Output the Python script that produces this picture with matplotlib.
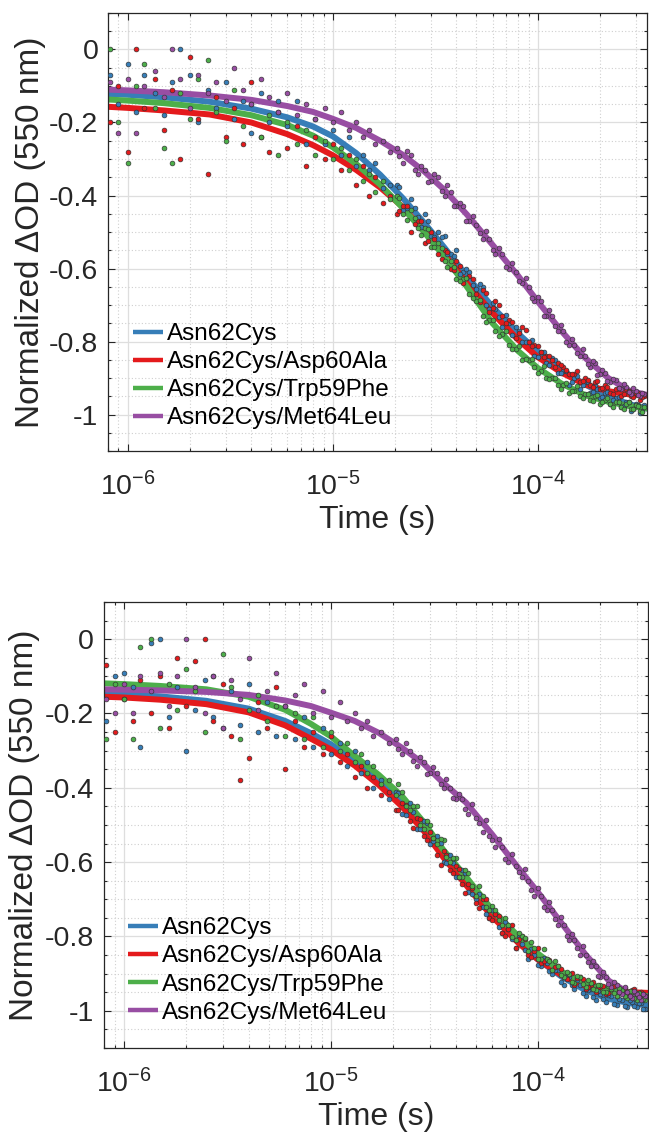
import numpy as np
import matplotlib
matplotlib.use("Agg")
import matplotlib.pyplot as plt
from matplotlib.ticker import LogLocator, MultipleLocator, FuncFormatter, NullFormatter

plt.rcParams.update({
    "font.family": ["Liberation Sans", "DejaVu Sans"],
    "mathtext.fontset": "custom",
    "mathtext.rm": "Liberation Sans",
    "mathtext.it": "Liberation Sans:italic",
    "mathtext.bf": "Liberation Sans:bold",
    "axes.unicode_minus": False,
})

# ---------------- data ----------------
series_names = ["Asn62Cys", "Asn62Cys/Asp60Ala", "Asn62Cys/Trp59Phe", "Asn62Cys/Met64Leu"]
series_colors = ["#377eb8", "#e41a1c", "#4daf4a", "#984ea3"]

# fit curves (time in microseconds)
fit_time_us = [0.8, 1.0, 1.5, 2.5, 4, 6, 8, 10, 13, 17, 22, 28, 35, 45, 60, 80, 100, 130, 170, 220, 280, 350]

top_fit_asn62cys = [-0.122, -0.124, -0.131, -0.143, -0.162, -0.186, -0.211, -0.238, -0.284, -0.343, -0.408,
                    -0.476, -0.543, -0.621, -0.705, -0.778, -0.828, -0.878, -0.918, -0.950, -0.972, -0.985]
top_fit_asp60ala = [-0.157, -0.160, -0.167, -0.178, -0.200, -0.232, -0.262, -0.290, -0.330, -0.378, -0.432,
                    -0.500, -0.562, -0.640, -0.722, -0.795, -0.843, -0.885, -0.918, -0.936, -0.945, -0.948]
top_fit_trp59phe = [-0.137, -0.140, -0.147, -0.160, -0.180, -0.207, -0.236, -0.268, -0.314, -0.370, -0.435,
                    -0.502, -0.568, -0.650, -0.750, -0.826, -0.873, -0.915, -0.947, -0.965, -0.977, -0.984]
top_fit_met64leu = [-0.110, -0.112, -0.117, -0.126, -0.138, -0.155, -0.171, -0.190, -0.215, -0.250, -0.289,
                    -0.335, -0.385, -0.452, -0.535, -0.620, -0.691, -0.771, -0.845, -0.900, -0.935, -0.948]

bot_fit_asn62cys = [-0.146, -0.148, -0.154, -0.166, -0.187, -0.220, -0.253, -0.283, -0.325, -0.380, -0.440,
                    -0.505, -0.573, -0.652, -0.740, -0.815, -0.862, -0.908, -0.945, -0.968, -0.980, -0.986]
bot_fit_asp60ala = [-0.155, -0.157, -0.163, -0.175, -0.197, -0.232, -0.268, -0.297, -0.340, -0.392, -0.450,
                    -0.515, -0.588, -0.662, -0.746, -0.816, -0.862, -0.904, -0.933, -0.946, -0.950, -0.952]
bot_fit_trp59phe = [-0.119, -0.121, -0.126, -0.135, -0.155, -0.190, -0.228, -0.262, -0.314, -0.365, -0.422,
                    -0.492, -0.568, -0.640, -0.728, -0.798, -0.846, -0.895, -0.926, -0.944, -0.953, -0.962]
bot_fit_met64leu = [-0.135, -0.136, -0.138, -0.142, -0.150, -0.165, -0.180, -0.198, -0.220, -0.252, -0.292,
                    -0.335, -0.388, -0.440, -0.525, -0.614, -0.681, -0.764, -0.849, -0.919, -0.955, -0.964]

# measured points, first set (time in microseconds)
data_time_us = [0.82, 0.90, 1.0, 1.1, 1.2, 1.35, 1.5, 1.65, 1.8, 2.0, 2.2, 2.45, 2.7, 3.0, 3.3, 3.65, 4.0,
                4.45, 4.9, 5.4, 6.0, 6.7, 7.4, 8.2, 9.1,
                10, 11, 12, 13, 14, 15, 16, 17.5, 19, 20.5, 22, 24, 26, 28, 30, 32.5, 35, 37.5, 40, 43, 46,
                50, 54, 58, 62, 67, 72, 78, 84, 90, 96, 103, 110, 117, 125, 133, 142, 150, 160, 170, 180,
                190, 200, 212, 225, 240, 255, 270, 285, 300, 315, 330]

top_data_asn62cys = [-0.07, -0.15, -0.04, -0.17, -0.07, -0.12, -0.18, -0.09, 0.00, -0.07, -0.20, -0.11, -0.16,
                     -0.09, -0.19, -0.14, -0.23, -0.12, -0.20, -0.14, -0.21, -0.14, -0.26, -0.19, -0.26,
                     -0.22, -0.29, -0.24, -0.32, -0.29, -0.33, -0.31, -0.38, -0.37, -0.37, -0.44, -0.41, -0.46,
                     -0.45, -0.51, -0.50, -0.51, -0.56, -0.55, -0.61, -0.61,
                     -0.655, -0.65, -0.71, -0.71, -0.76, -0.75, -0.76, -0.80, -0.80, -0.84, -0.83, -0.86, -0.845,
                     -0.885, -0.88, -0.92, -0.90, -0.93, -0.91, -0.94, -0.92, -0.955, -0.94, -0.97, -0.955,
                     -0.98, -0.965, -0.99, -0.97, -0.995, -0.975]
top_data_asp60ala = [-0.20, -0.10, -0.28, 0.00, -0.16, -0.08, -0.22, -0.11, -0.30, -0.02, -0.19, -0.34, -0.13,
                     -0.24, -0.16, -0.26, -0.09, -0.24, -0.28, -0.17, -0.27, -0.21, -0.32, -0.24, -0.30,
                     -0.26, -0.33, -0.29, -0.37, -0.32, -0.40, -0.35, -0.42, -0.40, -0.45, -0.43, -0.50, -0.47,
                     -0.53, -0.50, -0.56, -0.55, -0.60, -0.58, -0.64, -0.62,
                     -0.67, -0.66, -0.72, -0.69, -0.73, -0.74, -0.79, -0.76, -0.80, -0.81, -0.83, -0.84, -0.85,
                     -0.86, -0.87, -0.89, -0.89, -0.91, -0.90, -0.92, -0.91, -0.93, -0.92, -0.94, -0.93, -0.95,
                     -0.93, -0.95, -0.94, -0.96, -0.95]
top_data_trp59phe = [0.00, -0.20, -0.31, -0.10, -0.04, -0.16, -0.27, -0.31, -0.12, -0.19, -0.08, -0.03, -0.17,
                     -0.25, -0.11, -0.21, -0.15, -0.24, -0.18, -0.29, -0.20, -0.26, -0.22, -0.29, -0.25,
                     -0.30, -0.27, -0.33, -0.30, -0.36, -0.34, -0.39, -0.36, -0.41, -0.40, -0.45, -0.44, -0.49,
                     -0.49, -0.54, -0.53, -0.58, -0.58, -0.63, -0.63, -0.67,
                     -0.69, -0.73, -0.74, -0.77, -0.78, -0.81, -0.82, -0.85, -0.85, -0.87, -0.88, -0.90, -0.90,
                     -0.92, -0.92, -0.94, -0.935, -0.95, -0.945, -0.96, -0.95, -0.97, -0.96, -0.97, -0.965,
                     -0.98, -0.97, -0.985, -0.975, -0.99, -0.98]
top_data_met64leu = [-0.09, -0.23, -0.08, -0.23, -0.10, -0.06, -0.13, 0.00, -0.08, -0.16, -0.07, -0.12, -0.09,
                     -0.14, -0.05, -0.11, -0.15, -0.08, -0.13, -0.17, -0.12, -0.18, -0.15, -0.19, -0.16,
                     -0.20, -0.17, -0.22, -0.20, -0.24, -0.22, -0.26, -0.25, -0.28, -0.27, -0.31, -0.29, -0.34,
                     -0.33, -0.36, -0.35, -0.40, -0.39, -0.43, -0.43, -0.47,
                     -0.48, -0.52, -0.52, -0.56, -0.56, -0.60, -0.61, -0.64, -0.65, -0.69, -0.69, -0.73, -0.73,
                     -0.77, -0.77, -0.81, -0.81, -0.84, -0.84, -0.87, -0.86, -0.89, -0.885, -0.91, -0.905,
                     -0.93, -0.925, -0.945, -0.935, -0.95, -0.945]

bot_data_asn62cys = [-0.22, -0.10, -0.09, -0.13, -0.29, -0.01, 0.00, -0.21, -0.13, -0.30, -0.19, -0.11, -0.21,
                     -0.24, -0.14, -0.23, -0.12, -0.25, -0.17, -0.26, -0.18, -0.27, -0.21, -0.29, -0.24,
                     -0.31, -0.28, -0.34, -0.30, -0.36, -0.33, -0.40, -0.38, -0.43, -0.41, -0.47, -0.44, -0.51,
                     -0.49, -0.55, -0.53, -0.60, -0.58, -0.64, -0.62, -0.68,
                     -0.70, -0.72, -0.75, -0.74, -0.79, -0.78, -0.83, -0.82, -0.86, -0.85, -0.88, -0.87, -0.90,
                     -0.89, -0.93, -0.91, -0.94, -0.93, -0.96, -0.94, -0.97, -0.955, -0.975, -0.96, -0.985,
                     -0.97, -0.99, -0.975, -0.99, -0.98, -0.995]
bot_data_asp60ala = [-0.07, -0.25, -0.16, -0.22, -0.11, -0.20, -0.10, -0.24, -0.05, -0.18, -0.06, 0.00, -0.22,
                     -0.12, -0.26, -0.38, -0.32, -0.17, -0.24, -0.13, -0.35, -0.22, -0.29, -0.25, -0.31,
                     -0.26, -0.33, -0.31, -0.37, -0.34, -0.40, -0.37, -0.42, -0.41, -0.46, -0.44, -0.49, -0.48,
                     -0.53, -0.52, -0.58, -0.57, -0.62, -0.61, -0.66, -0.66,
                     -0.71, -0.70, -0.75, -0.74, -0.79, -0.78, -0.83, -0.80, -0.85, -0.84, -0.87, -0.86, -0.89,
                     -0.88, -0.91, -0.90, -0.93, -0.91, -0.94, -0.93, -0.95, -0.935, -0.955, -0.94, -0.96,
                     -0.945, -0.96, -0.945, -0.955, -0.95, -0.96]
bot_data_trp59phe = [-0.27, -0.12, -0.16, -0.27, -0.02, 0.00, -0.24, -0.12, -0.19, -0.08, -0.14, -0.25, -0.10,
                     -0.04, -0.13, -0.27, -0.19, -0.15, -0.22, -0.18, -0.26, -0.20, -0.27, -0.21, -0.29,
                     -0.25, -0.30, -0.28, -0.33, -0.31, -0.36, -0.34, -0.39, -0.38, -0.42, -0.41, -0.46, -0.45,
                     -0.51, -0.50, -0.55, -0.54, -0.60, -0.59, -0.64, -0.63,
                     -0.69, -0.69, -0.73, -0.73, -0.77, -0.77, -0.81, -0.80, -0.84, -0.83, -0.86, -0.86, -0.89,
                     -0.88, -0.91, -0.90, -0.925, -0.91, -0.935, -0.925, -0.945, -0.93, -0.95, -0.94, -0.96,
                     -0.945, -0.965, -0.95, -0.97, -0.955, -0.97]
bot_data_met64leu = [-0.16, -0.20, -0.12, -0.20, -0.10, -0.14, -0.09, -0.18, -0.10, 0.00, -0.13, -0.20, -0.10,
                     -0.24, -0.11, -0.16, -0.05, -0.19, -0.14, -0.09, -0.18, -0.15, -0.12, -0.20, -0.14,
                     -0.21, -0.17, -0.22, -0.20, -0.24, -0.22, -0.26, -0.25, -0.28, -0.27, -0.31, -0.30, -0.34,
                     -0.33, -0.36, -0.36, -0.40, -0.40, -0.43, -0.43, -0.47,
                     -0.48, -0.52, -0.53, -0.56, -0.56, -0.60, -0.61, -0.64, -0.65, -0.69, -0.69, -0.73, -0.73,
                     -0.77, -0.77, -0.81, -0.81, -0.85, -0.85, -0.88, -0.88, -0.91, -0.91, -0.935, -0.93,
                     -0.955, -0.95, -0.965, -0.955, -0.97, -0.96]

# measured points, second (interleaved) set in the dense late region (microseconds)
data2_time_us = [21, 23, 25, 27, 29, 31, 34, 36, 39, 41.5, 44.5, 48, 52, 56, 60, 64.5, 69.5, 75, 81, 87,
                 93, 99.5, 106.5, 113.5, 121, 129, 137.5, 146, 155, 165, 175, 185, 195, 206, 218, 232,
                 247, 262, 277, 292, 307, 322]

top_data2_asn62cys = [-0.376, -0.435, -0.435, -0.486, -0.471, -0.515, -0.514, -0.561, -0.565, -0.614,
                      -0.602, -0.644, -0.643, -0.700, -0.695, -0.734, -0.728, -0.781, -0.770, -0.802,
                      -0.797, -0.842, -0.830, -0.863, -0.850, -0.887, -0.882, -0.912, -0.895, -0.919,
                      -0.912, -0.939, -0.931, -0.952, -0.939, -0.960, -0.951, -0.976, -0.966, -0.985,
                      -0.973, -0.991]
top_data2_asp60ala = [-0.442, -0.429, -0.477, -0.469, -0.525, -0.518, -0.574, -0.555, -0.604, -0.593,
                      -0.626, -0.628, -0.692, -0.668, -0.707, -0.701, -0.749, -0.747, -0.777, -0.768,
                      -0.812, -0.812, -0.843, -0.839, -0.869, -0.864, -0.877, -0.890, -0.882, -0.909,
                      -0.905, -0.924, -0.908, -0.927, -0.925, -0.943, -0.926, -0.943, -0.935, -0.951,
                      -0.942, -0.952]
top_data2_trp59phe = [-0.408, -0.468, -0.461, -0.507, -0.492, -0.541, -0.544, -0.596, -0.596, -0.635,
                      -0.626, -0.682, -0.685, -0.746, -0.740, -0.785, -0.770, -0.820, -0.813, -0.848,
                      -0.847, -0.887, -0.868, -0.904, -0.899, -0.929, -0.913, -0.935, -0.922, -0.954,
                      -0.944, -0.963, -0.947, -0.966, -0.954, -0.978, -0.966, -0.984, -0.967, -0.984,
                      -0.976, -0.992]
top_data2_met64leu = [-0.291, -0.277, -0.329, -0.318, -0.362, -0.342, -0.388, -0.372, -0.428, -0.420,
                      -0.469, -0.456, -0.504, -0.496, -0.550, -0.545, -0.597, -0.584, -0.634, -0.626,
                      -0.682, -0.679, -0.729, -0.713, -0.758, -0.754, -0.802, -0.794, -0.831, -0.821,
                      -0.861, -0.854, -0.891, -0.877, -0.908, -0.904, -0.928, -0.916, -0.938, -0.928,
                      -0.947, -0.940]

bot_data2_asn62cys = [-0.414, -0.472, -0.464, -0.510, -0.495, -0.544, -0.549, -0.602, -0.601, -0.641,
                      -0.628, -0.685, -0.686, -0.740, -0.730, -0.775, -0.760, -0.808, -0.802, -0.836,
                      -0.835, -0.876, -0.858, -0.894, -0.890, -0.922, -0.906, -0.930, -0.918, -0.951,
                      -0.943, -0.962, -0.947, -0.967, -0.957, -0.981, -0.969, -0.987, -0.970, -0.986,
                      -0.978, -0.994]
bot_data2_asp60ala = [-0.459, -0.447, -0.509, -0.485, -0.541, -0.536, -0.608, -0.582, -0.630, -0.619,
                      -0.683, -0.670, -0.724, -0.700, -0.756, -0.744, -0.798, -0.770, -0.808, -0.807,
                      -0.856, -0.831, -0.867, -0.862, -0.882, -0.888, -0.915, -0.897, -0.913, -0.914,
                      -0.935, -0.923, -0.936, -0.933, -0.951, -0.932, -0.948, -0.939, -0.955, -0.940,
                      -0.951, -0.956]
bot_data2_trp59phe = [-0.391, -0.449, -0.448, -0.501, -0.488, -0.535, -0.538, -0.587, -0.590, -0.639,
                      -0.622, -0.664, -0.663, -0.721, -0.718, -0.756, -0.750, -0.802, -0.790, -0.805,
                      -0.814, -0.860, -0.835, -0.867, -0.865, -0.903, -0.896, -0.923, -0.905, -0.927,
                      -0.918, -0.942, -0.931, -0.950, -0.934, -0.951, -0.938, -0.961, -0.948, -0.965,
                      -0.952, -0.969]
bot_data2_met64leu = [-0.295, -0.279, -0.329, -0.318, -0.362, -0.344, -0.391, -0.376, -0.428, -0.416,
                      -0.458, -0.444, -0.494, -0.487, -0.540, -0.538, -0.591, -0.579, -0.627, -0.618,
                      -0.674, -0.669, -0.722, -0.708, -0.754, -0.747, -0.798, -0.792, -0.832, -0.826,
                      -0.868, -0.865, -0.905, -0.895, -0.927, -0.923, -0.949, -0.937, -0.959, -0.947,
                      -0.964, -0.956]

x_limits = (8.0e-7, 3.4e-4)
y_limits = (-1.1, 0.1)
x_label = "Time (s)"
y_label = "Normalized \u0394OD (550 nm)"

# ---------------- plotting ----------------
fig = plt.figure(figsize=(6.49, 11.39), dpi=100)
ax_top = fig.add_axes([0.1664, 0.604, 0.8305, 0.3846])
ax_bot = fig.add_axes([0.1602, 0.0799, 0.8382, 0.3916])

fit_t = np.array(fit_time_us) * 1e-6
dat_t = np.array(data_time_us) * 1e-6
dat2_t = np.array(data2_time_us) * 1e-6

panels = [
    (ax_top, [top_fit_asn62cys, top_fit_asp60ala, top_fit_trp59phe, top_fit_met64leu],
     [top_data_asn62cys, top_data_asp60ala, top_data_trp59phe, top_data_met64leu],
     [top_data2_asn62cys, top_data2_asp60ala, top_data2_trp59phe, top_data2_met64leu],
     (0.046, 0.292), -0.115),
    (ax_bot, [bot_fit_asn62cys, bot_fit_asp60ala, bot_fit_trp59phe, bot_fit_met64leu],
     [bot_data_asn62cys, bot_data_asp60ala, bot_data_trp59phe, bot_data_met64leu],
     [bot_data2_asn62cys, bot_data2_asp60ala, bot_data2_trp59phe, bot_data2_met64leu],
     (0.044, 0.293), -0.118),
]

dark = "#262626"
for ax, fits, datas, datas2, leg_anchor, ylab_x in panels:
    ax.set_xscale("log")
    for name, col, fit in zip(series_names, series_colors, fits):
        ax.plot(fit_t, fit, color=col, lw=4.3, solid_capstyle="butt", label=name, zorder=2)
    for col, d, d2 in zip(series_colors, datas, datas2):
        ax.scatter(dat_t, d, s=12, facecolor=col, edgecolor="#303030", linewidths=0.45, zorder=3)
        ax.scatter(dat2_t, d2, s=12, facecolor=col, edgecolor="#303030", linewidths=0.45, zorder=3)
    ax.set_xlim(*x_limits)
    ax.set_ylim(*y_limits)
    ax.yaxis.set_major_locator(MultipleLocator(0.2))
    ax.yaxis.set_minor_locator(MultipleLocator(0.05))
    ax.yaxis.set_major_formatter(FuncFormatter(lambda v, p: "%g" % round(v, 2) if abs(v) > 1e-9 else "0"))
    ax.xaxis.set_major_locator(LogLocator(base=10))
    ax.xaxis.set_minor_locator(LogLocator(base=10, subs=np.arange(2, 10)))
    ax.xaxis.set_minor_formatter(NullFormatter())
    ax.xaxis.set_major_formatter(FuncFormatter(lambda v, p: r"$\mathregular{10^{%d}}$" % round(np.log10(v))))
    ax.set_axisbelow(True)
    ax.grid(True, which="major", color="#dedede", lw=0.9, ls="-")
    ax.grid(True, which="minor", color="#cfcfcf", lw=0.8, ls=(0, (1, 2)))
    ax.tick_params(which="both", direction="in", top=True, right=True, colors=dark, width=0.8)
    ax.tick_params(which="major", length=5, labelsize=20.5)
    ax.tick_params(which="minor", length=2.5)
    ax.tick_params(axis="x", which="major", pad=15)
    ax.tick_params(axis="y", which="major", pad=7)
    for sp in ax.spines.values():
        sp.set_color(dark)
        sp.set_linewidth(0.9)
    ax.set_xlabel(x_label, fontsize=23, color=dark, labelpad=3)
    ax.set_ylabel(y_label, fontsize=24, color=dark)
    ax.yaxis.set_label_coords(ylab_x, 0.5)
    leg = ax.legend(loc="upper left", bbox_to_anchor=leg_anchor, frameon=False, fontsize=17.5,
                    handlelength=1.25, handletextpad=0.15, labelspacing=0.25, borderpad=0,
                    borderaxespad=0)
    for h in leg.get_lines():
        h.set_linewidth(3.2)
    for t in leg.get_texts():
        t.set_color("black")

fig.savefig("out.png", dpi=100)
